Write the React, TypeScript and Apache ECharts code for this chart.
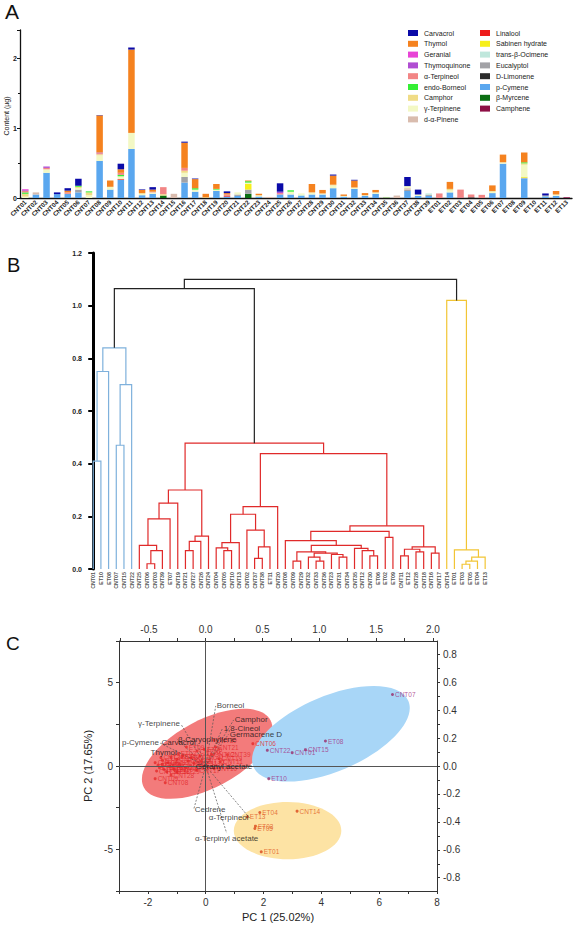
import React, { useEffect, useRef } from "react";
import * as echarts from "echarts";

const FONT = "'Liberation Sans', Arial, Helvetica, sans-serif";

// ---------- Panel A data ----------
const samples = [
  "CNT01","CNT02","CNT03","CNT04","CNT05","CNT06","CNT07","CNT08","CNT09","CNT10","CNT11","CNT12","CNT13",
  "CNT14","CNT15","CNT16","CNT17","CNT18","CNT19","CNT20","CNT21","CNT22","CNT23","CNT24","CNT25","CNT26",
  "CNT27","CNT28","CNT29","CNT30","CNT31","CNT32","CNT33","CNT34","CNT35","CNT36","CNT37","CNT38","CNT39",
  "ET01","ET02","ET03","ET04","ET05","ET06","ET07","ET08","ET09","ET10","ET11","ET12","ET13",
];

// rows: CNT01-13 | CNT14-26 | CNT27-39 | ET01-13
const pCymene = [
  0, 0.05, 0.36, 0.055, 0.06, 0.08, 0, 0.53, 0.12, 0.26, 0.7, 0.04, 0.06,
  0, 0, 0.22, 0.09, 0, 0.1, 0.02, 0.03, 0, 0.02, 0, 0.05, 0.05,
  0.03, 0.05, 0.05, 0.14, 0.02, 0.13, 0.03, 0.06, 0, 0, 0.1, 0.03, 0.03,
  0, 0.08, 0, 0, 0, 0.07, 0.49, 0, 0.28, 0, 0.025, 0.03, 0,
];
const thymol = [
  0, 0, 0, 0, 0.025, 0, 0, 0.53, 0.09, 0.05, 1.19, 0.045, 0.03,
  0, 0, 0.36, 0.13, 0.05, 0.07, 0.02, 0, 0.01, 0.02, 0, 0, 0,
  0, 0.12, 0.05, 0.13, 0.02, 0.1, 0.03, 0.035, 0, 0, 0, 0, 0,
  0, 0.1, 0, 0, 0, 0.08, 0.11, 0, 0.14, 0, 0, 0.05, 0,
];
const carvacrol = [
  0, 0, 0, 0.025, 0.035, 0.1, 0, 0.005, 0, 0.08, 0.03, 0.008, 0.035,
  0, 0, 0.015, 0.008, 0, 0, 0.025, 0, 0, 0, 0, 0.12, 0,
  0, 0, 0, 0.015, 0, 0.01, 0, 0, 0, 0, 0.13, 0.07, 0,
  0, 0, 0, 0, 0, 0, 0, 0, 0, 0, 0.03, 0, 0,
];
const gTerpinene = [
  0.02, 0, 0.05, 0, 0, 0.02, 0.04, 0.08, 0.04, 0.04, 0.23, 0.02, 0.02,
  0, 0, 0.06, 0.03, 0, 0.02, 0, 0.03, 0.02, 0.02, 0, 0, 0.04,
  0.02, 0.03, 0.015, 0.04, 0.01, 0.02, 0.01, 0.02, 0.008, 0, 0.03, 0.02, 0,
  0, 0.03, 0, 0, 0, 0.02, 0.02, 0, 0.17, 0, 0, 0.02, 0,
];
const camphor = [
  0.04, 0, 0, 0, 0, 0.02, 0.04, 0.015, 0, 0, 0, 0.01, 0,
  0.02, 0, 0.03, 0, 0.01, 0, 0, 0, 0, 0, 0, 0, 0,
  0, 0, 0, 0.01, 0, 0, 0, 0, 0, 0, 0, 0, 0,
  0, 0.02, 0, 0, 0, 0.01, 0, 0, 0.02, 0, 0.01, 0, 0,
];
const borneol = [
  0.02, 0, 0, 0, 0, 0.015, 0.015, 0, 0, 0.02, 0, 0, 0,
  0, 0, 0, 0.02, 0, 0.01, 0, 0, 0.02, 0, 0, 0, 0.02,
  0, 0, 0, 0, 0, 0, 0, 0, 0, 0, 0, 0, 0,
  0, 0, 0, 0, 0, 0, 0, 0, 0.015, 0, 0, 0, 0,
];
const terpineol = [
  0.02, 0, 0.02, 0, 0.02, 0, 0, 0.015, 0, 0.03, 0, 0, 0.01,
  0.1, 0, 0.04, 0, 0, 0, 0.02, 0, 0, 0, 0, 0.02, 0,
  0, 0, 0, 0, 0, 0, 0, 0, 0, 0, 0, 0, 0,
  0.065, 0, 0.115, 0.04, 0.045, 0, 0, 0, 0, 0, 0, 0, 0,
];
const geranial = [
  0.015, 0, 0, 0, 0, 0, 0, 0, 0, 0, 0, 0, 0,
  0, 0, 0, 0, 0, 0, 0, 0, 0, 0, 0, 0, 0,
  0, 0, 0, 0, 0, 0, 0, 0, 0, 0, 0, 0, 0,
  0, 0, 0, 0, 0, 0, 0, 0, 0, 0, 0, 0, 0,
];
const thymoquinone = [
  0.01, 0, 0.02, 0, 0, 0, 0, 0.01, 0, 0, 0, 0, 0,
  0, 0, 0, 0, 0, 0, 0, 0, 0, 0, 0, 0.02, 0,
  0, 0, 0, 0, 0, 0, 0, 0, 0, 0, 0, 0, 0,
  0, 0, 0, 0, 0, 0, 0, 0, 0, 0, 0, 0, 0,
];
const pinene = [
  0, 0.03, 0, 0, 0, 0, 0, 0, 0, 0, 0, 0, 0,
  0, 0.06, 0, 0, 0, 0, 0, 0, 0, 0, 0.015, 0, 0,
  0, 0, 0, 0, 0, 0, 0, 0, 0, 0.035, 0.02, 0, 0,
  0, 0, 0, 0, 0, 0, 0, 0, 0, 0, 0, 0, 0,
];
const linalool = [
  0, 0, 0, 0, 0, 0, 0, 0, 0, 0.01, 0, 0, 0,
  0, 0, 0, 0, 0, 0, 0.01, 0, 0, 0, 0, 0, 0,
  0, 0, 0, 0, 0, 0, 0, 0, 0, 0, 0, 0, 0,
  0, 0, 0, 0, 0, 0, 0, 0, 0, 0, 0, 0, 0,
];
const sabinene = [
  0, 0, 0, 0, 0, 0, 0, 0, 0, 0, 0, 0, 0,
  0, 0, 0, 0, 0, 0, 0, 0, 0.08, 0, 0, 0, 0,
  0, 0, 0, 0, 0, 0, 0, 0, 0, 0, 0, 0, 0,
  0, 0, 0, 0, 0, 0, 0, 0, 0.015, 0, 0, 0, 0,
];
const ocimene = [
  0, 0, 0, 0, 0, 0, 0, 0, 0, 0, 0, 0, 0,
  0, 0, 0, 0, 0, 0, 0, 0, 0, 0, 0, 0, 0,
  0.015, 0, 0, 0, 0, 0, 0, 0, 0, 0, 0, 0, 0.02,
  0, 0, 0, 0, 0, 0, 0, 0, 0, 0, 0, 0, 0,
];
const eucalyptol = [
  0, 0, 0, 0, 0, 0.04, 0, 0, 0, 0, 0, 0, 0,
  0, 0, 0.08, 0, 0, 0, 0, 0.02, 0.06, 0, 0, 0, 0,
  0, 0, 0, 0, 0, 0, 0, 0, 0, 0, 0.02, 0, 0.015,
  0, 0, 0, 0, 0, 0, 0, 0, 0.01, 0, 0, 0, 0,
];
const limonene = [
  0, 0, 0, 0, 0, 0, 0, 0, 0, 0, 0, 0, 0,
  0, 0, 0, 0, 0, 0, 0, 0, 0, 0, 0, 0, 0,
  0, 0, 0, 0, 0, 0, 0, 0, 0, 0, 0, 0, 0,
  0, 0, 0, 0.01, 0, 0, 0, 0, 0, 0, 0, 0, 0,
];
const myrcene = [
  0, 0, 0, 0, 0, 0, 0, 0, 0, 0, 0, 0, 0,
  0.035, 0, 0, 0, 0, 0, 0, 0, 0.06, 0, 0, 0, 0,
  0, 0, 0, 0, 0, 0, 0, 0, 0.008, 0, 0, 0, 0,
  0, 0, 0, 0, 0, 0, 0, 0, 0, 0, 0, 0, 0,
];
const camphene = [
  0, 0, 0, 0, 0, 0, 0, 0, 0, 0, 0, 0, 0,
  0, 0, 0, 0, 0, 0, 0, 0, 0, 0, 0, 0, 0,
  0, 0, 0, 0, 0, 0, 0, 0, 0, 0, 0, 0, 0,
  0, 0, 0.005, 0, 0, 0, 0, 0, 0, 0, 0, 0, 0.01,
];

// stacked bottom -> top
const compounds = [
  { name: "Camphene", color: "#8e0f45", data: camphene },
  { name: "β-Myrcene", color: "#0b6e12", data: myrcene },
  { name: "p-Cymene", color: "#5aa7ef", data: pCymene },
  { name: "D-Limonene", color: "#2b2b2b", data: limonene },
  { name: "Eucalyptol", color: "#a2a2a6", data: eucalyptol },
  { name: "trans-β-Ocimene", color: "#bfe7dc", data: ocimene },
  { name: "Sabinen hydrate", color: "#f6ef1a", data: sabinene },
  { name: "Linalool", color: "#ee1c1c", data: linalool },
  { name: "d-α-Pinene", color: "#d9bcae", data: pinene },
  { name: "γ-Terpinene", color: "#f3f8c4", data: gTerpinene },
  { name: "Camphor", color: "#f0dc86", data: camphor },
  { name: "endo-Borneol", color: "#35ef35", data: borneol },
  { name: "α-Terpineol", color: "#f28585", data: terpineol },
  { name: "Thymoquinone", color: "#b04ed2", data: thymoquinone },
  { name: "Geranial", color: "#e844d6", data: geranial },
  { name: "Thymol", color: "#f5821f", data: thymol },
  { name: "Carvacrol", color: "#0a0aa8", data: carvacrol },
];
const legendCol1 = ["Carvacrol", "Thymol", "Geranial", "Thymoquinone", "α-Terpineol", "endo-Borneol", "Camphor", "γ-Terpinene", "d-α-Pinene"];
const legendCol2 = ["Linalool", "Sabinen hydrate", "trans-β-Ocimene", "Eucalyptol", "D-Limonene", "p-Cymene", "β-Myrcene", "Camphene"];

// ---------- Panel B data (hierarchical clustering) ----------
type TNode = string | [number, TNode, TNode];
const blueClade: TNode = [0.84, [0.75, [0.41, "CNT01", "ET10"], "ET08"], [0.7, [0.47, "CNT07", "CNT15"], "CNT22"]];
const redLeft: TNode = [0.3,
  [0.25, [0.19, [0.09, "CNT25", [0.07, [0.02, "CNT06", "CNT03"], "CNT39"]], "ET07"], "CNT19"],
  [0.125, [0.105, [0.07, "CNT21", "CNT27"], "CNT26"], "CNT24"]];
const redMid: TNode = [0.237,
  [0.208, [0.1, [0.08, "CNT04", [0.07, "CNT05", "CNT10"]], "CNT13"],
    [0.148, "CNT02", [0.084, [0.04, "CNT37", "CNT38"], "ET11"]]],
  "CNT20"];
const redSub: TNode = [0.108, "CNT08",
  [0.09, [0.065, [0.03, "CNT09", "CNT29"], [0.06, [0.045, "CNT32", [0.03, "CNT33", "CNT36"]], [0.055, "CNT23", [0.045, "CNT31", "CNT34"]]]],
    [0.078, "CNT35", [0.07, "CNT12", [0.05, "CNT30", "ET06"]]]]];
const redRightB: TNode = [0.164, [0.143, redSub, [0.12, "ET02", "ET09"]],
  [0.084, [0.075, [0.05, "CNT11", "ET12"], [0.065, "CNT28", "CNT18"]], [0.06, "CNT16", "CNT17"]]];
const redClade: TNode = [0.478, redLeft, [0.438, redMid, redRightB]];
const yellowClade: TNode = [1.02, "CNT14", [0.073, "ET01", [0.045, [0.03, [0.018, "ET03", "ET05"], "ET04"], "ET13"]]];
const treeRoot: TNode = [1.1, [1.065, blueClade, redClade], yellowClade];
const cladeColors = ["#222222", "#7fb1dc", "#e02a2a", "#f2c535"];

// ---------- Panel C data (PCA) ----------
const redNames = ["CNT06","CNT39","CNT21","CNT19","ET09","CNT30","CNT10","CNT09","CNT08","CNT11",
  "CNT03","CNT25","CNT02","ET07","CNT27","CNT26","CNT24","CNT04","CNT05","CNT13",
  "CNT16","CNT37","CNT38","ET11","CNT20","CNT29","CNT32","CNT33","CNT36","CNT23",
  "CNT31","CNT34","CNT35","CNT12","ET06","ET02","ET12","CNT28","CNT18","CNT17"];
const redPC1 = [1.63, 0.75, 0.34, 0.46, -0.67, 0.28, 0.29, -1.75, -1.4, 0.5,
  -1.2, -1.0, -1.5, -0.8, -1.3, -1.6, -1.75, -1.1, -0.9, -0.6,
  -0.3, -0.5, -1.35, -1.5, -0.2, -1.0, -1.45, -1.25, -1.7, -0.7,
  -0.4, -1.55, -0.15, 0.2, -0.05, -0.95, -1.65, -1.2, 0.1, -0.3];
const redPC2 = [1.34, 0.68, 1.14, 0.44, 1.14, 1.54, -0.16, -0.76, -1.0, 0.25,
  0.55, 0.4, 0.1, 0.6, 0.2, -0.1, 0.2, -0.2, 0.1, 0.3,
  0.9, 0.5, -0.35, 0.35, 0.6, -0.35, -0.2, 0.0, -0.3, -0.1,
  0.15, 0.5, 0.3, 0.7, 1.0, 0.75, 0.05, -0.55, -0.05, -0.25];
const blueNames = ["CNT07", "ET08", "CNT15", "CNT01", "CNT22", "ET10"];
const bluePC1 = [6.46, 4.14, 3.45, 2.99, 2.13, 2.18];
const bluePC2 = [4.29, 1.5, 0.98, 0.8, 0.94, -0.76];
const yellowNames = ["ET04", "ET13", "ET03", "ET05", "ET01", "CNT14"];
const yellowPC1 = [1.87, 1.44, 1.72, 1.7, 1.92, 3.16];
const yellowPC2 = [-2.79, -3.05, -3.61, -3.75, -5.15, -2.71];
// ellipses: [centre PC1, centre PC2, semi-major, semi-minor (PC1 units), angle deg]
const ellipses = [
  [0.05, 0.73, 2.48, 1.17, 28],
  [4.33, 1.93, 2.91, 1.3, 23],
  [2.83, -3.88, 1.86, 0.99, 0],
];
const ellipseColors = ["#f37b7b", "#a8d6f7", "#fde3a4"];
const loadingNames = ["Borneol", "Camphor", "1,8-Cineol", "Germacrene D", "β-Caryophyllene", "γ-Terpinene",
  "p-Cymene", "Carvacrol", "Thymol", "Geranyl acetate", "Cedrene", "α-Terpineol", "α-Terpinyl acetate"];
const loadingPC1 = [0.088, 0.246, 0.149, 0.202, -0.254, -0.219, -0.404, -0.079, -0.246, -0.096, -0.105, 0.386, 0.184];
const loadingPC2 = [0.43, 0.33, 0.272, 0.229, 0.193, 0.301, 0.165, 0.165, 0.1, -0.007, -0.308, -0.372, -0.48];
const loadingLabelPos = ["right", "right", "right", "right", "right", "left", "left", "left", "left", "right", "right", "left", "bottom"];
const pc1Labels = [-2, 0, 2, 4, 6, 8];
const pc2Labels = [-5, 0, 5];
const topLabels = [-0.5, 0, 0.5, 1.0, 1.5, 2.0];
const rightLabels = [-0.8, -0.6, -0.4, -0.2, 0, 0.2, 0.4, 0.6, 0.8];

function layoutTree(root: TNode) {
  const leaves: string[] = [];
  const links: number[][] = [];
  const cladeMap = new Map<any, number>([[blueClade, 1], [redClade, 2], [yellowClade, 3]]);
  const walk = (n: TNode, color: number): { x: number; h: number } => {
    if (typeof n === "string") {
      leaves.push(n);
      return { x: leaves.length - 1, h: 0 };
    }
    const c = cladeMap.has(n) ? (cladeMap.get(n) as number) : color;
    const a = walk(n[1], c);
    const b = walk(n[2], c);
    links.push([a.x, b.x, n[0], a.h, b.h, c]);
    return { x: (a.x + b.x) / 2, h: n[0] };
  };
  walk(root, 0);
  return { leaves, links };
}

function range(a: number, b: number, step: number) {
  const out: number[] = [];
  for (let v = a; v <= b + 1e-9; v += step) out.push(Math.round(v * 1000) / 1000);
  return out;
}

export default function App() {
  const ref = useRef<HTMLDivElement>(null);
  useEffect(() => {
    if (!ref.current) return;
    const chart = echarts.init(ref.current, undefined, { renderer: "svg" });
    const { leaves, links } = layoutTree(treeRoot);
    const axisC = { lineStyle: { color: "#333", width: 1 } };
    const labelC = { fontSize: 10, color: "#333", fontFamily: FONT };

    const option: any = {
      animation: false,
      textStyle: { fontFamily: FONT },
      graphic: [
        { type: "text", left: 5, top: 1, style: { text: "A", fontSize: 21, fill: "#111", fontFamily: FONT } },
        { type: "text", left: 7, top: 255, style: { text: "B", fontSize: 20, fill: "#111", fontFamily: FONT } },
        { type: "text", left: 6, top: 634, style: { text: "C", fontSize: 19, fill: "#111", fontFamily: FONT } },
        {
          type: "text", x: 6, y: 116, rotation: Math.PI / 2,
          style: { text: "Content (µg)", fontSize: 7, fill: "#222", fontFamily: FONT, align: "center", verticalAlign: "middle" },
        },
      ],
      legend: [
        {
          data: legendCol1, orient: "vertical", left: 408, top: 29, padding: 0,
          itemWidth: 10, itemHeight: 6, itemGap: 2.8, icon: "rect", selectedMode: false,
          textStyle: { fontSize: 7, color: "#222", lineHeight: 8, padding: [0, 0, 0, 1] },
        },
        {
          data: legendCol2, orient: "vertical", left: 480, top: 29, padding: 0,
          itemWidth: 10, itemHeight: 6, itemGap: 2.8, icon: "rect", selectedMode: false,
          textStyle: { fontSize: 7, color: "#222", lineHeight: 8, padding: [0, 0, 0, 1] },
        },
      ],
      grid: [
        { left: 20, top: 30, width: 552, height: 168, outerBoundsMode: "none" },
        { left: 84, top: 253, width: 405, height: 316, outerBoundsMode: "none" },
        { left: 119, top: 641, width: 318, height: 250, outerBoundsMode: "none" },
      ],
      xAxis: [
        {
          type: "category", gridIndex: 0, data: samples,
          axisLine: { lineStyle: { color: "#111", width: 1.3 } },
          axisTick: { alignWithLabel: true, length: 2, lineStyle: { color: "#111" } },
          axisLabel: { rotate: 45, interval: 0, fontSize: 6.3, fontWeight: "bold", color: "#222", margin: 3 },
        },
        { type: "value", gridIndex: 1, min: -1.2, max: 51.5, show: false },
        {
          type: "value", gridIndex: 2, min: -3, max: 8, position: "bottom",
          name: "PC 1 (25.02%)", nameLocation: "middle", nameGap: 20,
          nameTextStyle: { fontSize: 11, color: "#222" },
          axisLine: { onZero: false, ...axisC },
          axisTick: { customValues: range(-3, 8, 1), length: 3, lineStyle: { color: "#333" } },
          axisLabel: { customValues: pc1Labels, ...labelC, margin: 6 },
          splitLine: { show: false },
        },
        {
          type: "value", gridIndex: 2, min: -0.7636, max: 2.036, position: "top",
          axisLine: { onZero: false, ...axisC },
          axisTick: { customValues: range(-0.75, 2.0, 0.25), length: 3, lineStyle: { color: "#333" } },
          axisLabel: { customValues: topLabels, ...labelC, margin: 7, formatter: (v: number) => v.toFixed(1) },
          splitLine: { show: false },
        },
      ],
      yAxis: [
        {
          type: "value", gridIndex: 0, min: 0, max: 2.4, interval: 1,
          axisLine: { show: true, lineStyle: { color: "#111", width: 1.3 } },
          axisTick: { show: true, length: 3, lineStyle: { color: "#111" } },
          minorTick: { show: true, splitNumber: 2, length: 2, lineStyle: { color: "#111" } },
          axisLabel: { fontSize: 7, fontWeight: "bold", color: "#222", margin: 3, showMaxLabel: false },
          splitLine: { show: false },
        },
        {
          type: "value", gridIndex: 1, min: 0, max: 1.2, interval: 0.2,
          axisLine: { show: true, lineStyle: { color: "#000", width: 3 } },
          axisTick: { show: true, length: 5, lineStyle: { color: "#000", width: 2 } },
          axisLabel: { fontSize: 7, fontWeight: "bold", color: "#222", margin: 2, formatter: (v: number) => v.toFixed(1) },
          splitLine: { show: false },
        },
        {
          type: "value", gridIndex: 2, min: -7.5, max: 7.5, position: "left",
          name: "PC 2 (17.65%)", nameLocation: "middle", nameGap: 22, nameRotate: 90,
          nameTextStyle: { fontSize: 11, color: "#222" },
          axisLine: { show: true, onZero: false, ...axisC },
          axisTick: { show: true, customValues: range(-7.5, 7.5, 2.5), length: 3, lineStyle: { color: "#333" } },
          axisLabel: { customValues: pc2Labels, ...labelC, margin: 6 },
          splitLine: { show: false },
        },
        {
          type: "value", gridIndex: 2, min: -0.895, max: 0.895, position: "right",
          axisLine: { show: true, onZero: false, ...axisC },
          axisTick: { show: true, customValues: range(-0.8, 0.8, 0.1), length: 3, lineStyle: { color: "#333" } },
          axisLabel: { customValues: rightLabels, ...labelC, margin: 6, formatter: (v: number) => v.toFixed(1) },
          splitLine: { show: false },
        },
      ],
      series: [
        ...compounds.map((c) => ({
          type: "bar", name: c.name, stack: "total", xAxisIndex: 0, yAxisIndex: 0,
          data: c.data, barWidth: 6.5, itemStyle: { color: c.color }, emphasis: { disabled: true },
        })),
        {
          type: "custom", xAxisIndex: 1, yAxisIndex: 1, data: links, silent: true,
          encode: { x: [0, 1], y: [2, 3, 4] },
          renderItem: (_p: any, api: any) => {
            const xl = api.value(0), xr = api.value(1), h = api.value(2), hl = api.value(3), hr = api.value(4);
            const col = cladeColors[api.value(5)];
            return {
              type: "polyline",
              shape: { points: [api.coord([xl, hl]), api.coord([xl, h]), api.coord([xr, h]), api.coord([xr, hr])] },
              style: { stroke: col, fill: "none", lineWidth: 1.2 },
            };
          },
        },
        {
          type: "scatter", xAxisIndex: 1, yAxisIndex: 1, symbolSize: 0, silent: true,
          data: leaves.map((n, i) => ({ value: [i, 0], name: n })),
          label: {
            show: true, formatter: "{b}", position: "bottom", rotate: 90, align: "right", verticalAlign: "middle",
            distance: 3, fontSize: 5.3, fontWeight: "bold", color: "#222",
          },
        },
        {
          type: "custom", xAxisIndex: 2, yAxisIndex: 2, z: 1, silent: true, data: ellipses,
          renderItem: (p: any, api: any) => {
            const c = api.coord([api.value(0), api.value(1)]);
            const s = api.size([1, 1]);
            return {
              type: "ellipse", x: c[0], y: c[1], rotation: (api.value(4) * Math.PI) / 180,
              shape: { cx: 0, cy: 0, rx: api.value(2) * s[0], ry: api.value(3) * s[0] },
              style: { fill: ellipseColors[p.dataIndex] },
            };
          },
        },
        {
          type: "scatter", xAxisIndex: 2, yAxisIndex: 2, z: 2, symbolSize: 0, silent: true, data: [],
          markLine: {
            silent: true, symbol: ["none", "none"], label: { show: false },
            lineStyle: { color: "#555", type: "solid", width: 1 },
            data: [{ xAxis: 0 }, { yAxis: 0 }],
          },
        },
        {
          type: "custom", xAxisIndex: 3, yAxisIndex: 3, z: 3, silent: true,
          data: loadingPC1.map((v, i) => [v, loadingPC2[i]]),
          renderItem: (_p: any, api: any) => {
            const o = api.coord([0, 0]);
            const e = api.coord([api.value(0), api.value(1)]);
            return {
              type: "line", shape: { x1: o[0], y1: o[1], x2: e[0], y2: e[1] },
              style: { stroke: "#555", lineWidth: 0.7, lineDash: [2, 1.5] },
            };
          },
        },
        {
          type: "scatter", xAxisIndex: 2, yAxisIndex: 2, z: 4, symbolSize: 3, silent: true,
          itemStyle: { color: "#e52b2b" },
          data: redNames.map((n, i) => ({ value: [redPC1[i], redPC2[i]], name: n })),
          label: { show: true, formatter: "{b}", position: "right", distance: 1, fontSize: 6.5, color: "#e3262a" },
        },
        {
          type: "scatter", xAxisIndex: 2, yAxisIndex: 2, z: 4, symbolSize: 3, silent: true,
          itemStyle: { color: "#9a2a6a" },
          data: blueNames.map((n, i) => ({ value: [bluePC1[i], bluePC2[i]], name: n })),
          label: { show: true, formatter: "{b}", position: "right", distance: 1, fontSize: 6.5, color: "#a2307e" },
        },
        {
          type: "scatter", xAxisIndex: 2, yAxisIndex: 2, z: 4, symbolSize: 3, silent: true,
          itemStyle: { color: "#d9461a" },
          data: yellowNames.map((n, i) => ({ value: [yellowPC1[i], yellowPC2[i]], name: n })),
          label: { show: true, formatter: "{b}", position: "right", distance: 1, fontSize: 6.5, color: "#e0561c" },
        },
        {
          type: "scatter", xAxisIndex: 3, yAxisIndex: 3, z: 5, symbolSize: 0, silent: true,
          data: loadingNames.map((n, i) => ({
            value: [loadingPC1[i], loadingPC2[i]], name: n,
            label: { position: loadingLabelPos[i] },
          })),
          label: { show: true, formatter: "{b}", distance: 1, fontSize: 8, color: "#111" },
        },
      ],
    };
    chart.setOption(option);
    return () => chart.dispose();
  }, []);
  return <div ref={ref} style={{ position: "fixed", left: 0, top: 0, width: 578, height: 925, background: "#fff" }} />;
}
